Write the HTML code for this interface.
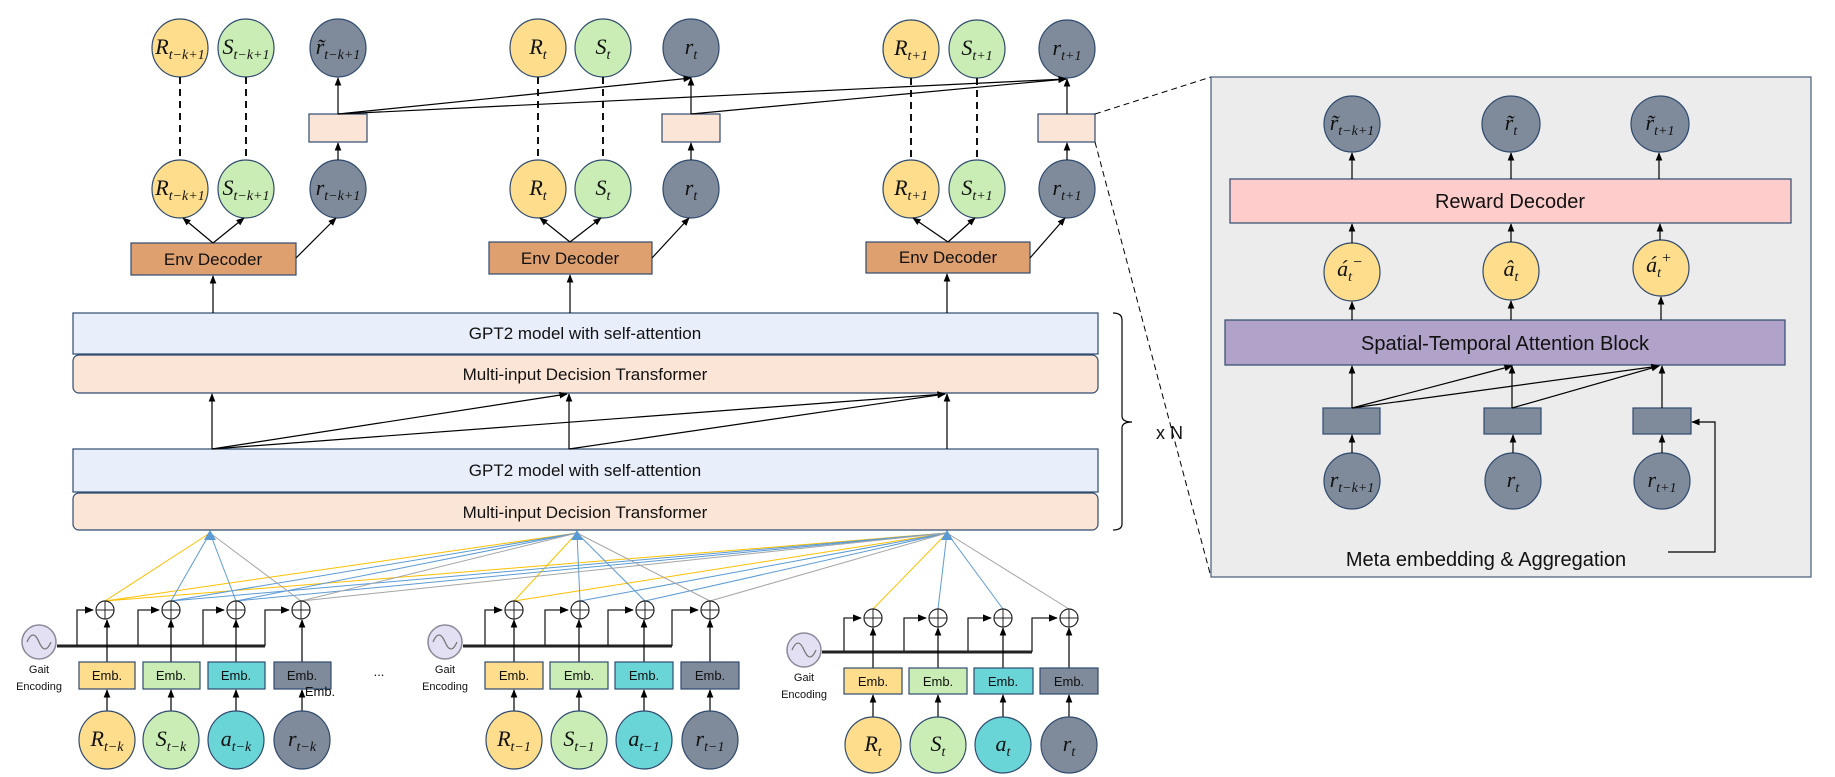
<!DOCTYPE html>
<html><head><meta charset="utf-8"><style>
html,body{margin:0;padding:0;background:#fff;}
svg{display:block;}
text{font-family:"Liberation Sans",sans-serif;}
.m text, text.m{font-family:"Liberation Serif",serif;font-style:italic;}
</style></head><body>
<svg width="1835" height="777" viewBox="0 0 1835 777" xmlns="http://www.w3.org/2000/svg">
<defs>
<marker id="ah" viewBox="0 0 10 10" refX="9" refY="5" markerWidth="7" markerHeight="7" orient="auto-start-reverse"><path d="M0,1 L10,5 L0,9 z" fill="#000"/></marker>
</defs>
<g stroke="#2f4a6e" stroke-width="1.2">
<ellipse cx="180" cy="48" rx="28" ry="29" fill="#fedd8c"/>
<ellipse cx="246" cy="48" rx="28" ry="29" fill="#c9edb5"/>
<ellipse cx="338" cy="48" rx="28" ry="29" fill="#7f8b9b"/>
<ellipse cx="538" cy="48" rx="28" ry="29" fill="#fedd8c"/>
<ellipse cx="603" cy="48" rx="28" ry="29" fill="#c9edb5"/>
<ellipse cx="691" cy="48" rx="28" ry="29" fill="#7f8b9b"/>
<ellipse cx="911" cy="49" rx="28" ry="29" fill="#fedd8c"/>
<ellipse cx="977" cy="49" rx="28" ry="29" fill="#c9edb5"/>
<ellipse cx="1067" cy="49" rx="28" ry="29" fill="#7f8b9b"/>
<ellipse cx="180" cy="189" rx="28" ry="29" fill="#fedd8c"/>
<ellipse cx="246" cy="189" rx="28" ry="29" fill="#c9edb5"/>
<ellipse cx="338" cy="189" rx="28" ry="29" fill="#7f8b9b"/>
<ellipse cx="538" cy="189" rx="28" ry="29" fill="#fedd8c"/>
<ellipse cx="603" cy="189" rx="28" ry="29" fill="#c9edb5"/>
<ellipse cx="691" cy="189" rx="28" ry="29" fill="#7f8b9b"/>
<ellipse cx="911" cy="189" rx="28" ry="29" fill="#fedd8c"/>
<ellipse cx="977" cy="189" rx="28" ry="29" fill="#c9edb5"/>
<ellipse cx="1067" cy="189" rx="28" ry="29" fill="#7f8b9b"/>
<rect x="309" y="114" width="58" height="28" fill="#fbe5d6"/>
<rect x="662" y="114" width="58" height="28" fill="#fbe5d6"/>
<rect x="1038" y="114" width="57" height="28" fill="#fbe5d6"/>
<rect x="131" y="243" width="165" height="32" fill="#dfa070"/>
<rect x="489" y="242" width="163" height="32" fill="#dfa070"/>
<rect x="866" y="242" width="164" height="31" fill="#dfa070"/>
<rect x="73" y="313" width="1025" height="41" fill="#e8eefa"/>
<rect x="73" y="355" width="1025" height="38" rx="6" fill="#fbe5d6"/>
<rect x="73" y="449" width="1025" height="43" fill="#e8eefa"/>
<rect x="73" y="493" width="1025" height="37" rx="6" fill="#fbe5d6"/>
</g>
<g font-size="17" text-anchor="middle" fill="#111">
<text x="585" y="339">GPT2 model with self-attention</text>
<text x="585" y="380">Multi-input Decision Transformer</text>
<text x="585" y="476">GPT2 model with self-attention</text>
<text x="585" y="518">Multi-input Decision Transformer</text>
<text x="213" y="265">Env Decoder</text>
<text x="570" y="264">Env Decoder</text>
<text x="948" y="263">Env Decoder</text>
</g>
<g class="m" font-size="22" text-anchor="middle" fill="#111">
<text x="180" y="54">R<tspan font-size="14" dy="5">t−k+1</tspan></text>
<text x="246" y="54">S<tspan font-size="14" dy="5">t−k+1</tspan></text>
<text x="338" y="54">r̃<tspan font-size="14" dy="5">t−k+1</tspan></text>
<text x="538" y="54">R<tspan font-size="14" dy="5">t</tspan></text>
<text x="603" y="54">S<tspan font-size="14" dy="5">t</tspan></text>
<text x="691" y="54">r<tspan font-size="14" dy="5">t</tspan></text>
<text x="911" y="55">R<tspan font-size="14" dy="5">t+1</tspan></text>
<text x="977" y="55">S<tspan font-size="14" dy="5">t+1</tspan></text>
<text x="1067" y="55">r<tspan font-size="14" dy="5">t+1</tspan></text>
<text x="180" y="195">R<tspan font-size="14" dy="5">t−k+1</tspan></text>
<text x="246" y="195">S<tspan font-size="14" dy="5">t−k+1</tspan></text>
<text x="338" y="195">r<tspan font-size="14" dy="5">t−k+1</tspan></text>
<text x="538" y="195">R<tspan font-size="14" dy="5">t</tspan></text>
<text x="603" y="195">S<tspan font-size="14" dy="5">t</tspan></text>
<text x="691" y="195">r<tspan font-size="14" dy="5">t</tspan></text>
<text x="911" y="195">R<tspan font-size="14" dy="5">t+1</tspan></text>
<text x="977" y="195">S<tspan font-size="14" dy="5">t+1</tspan></text>
<text x="1067" y="195">r<tspan font-size="14" dy="5">t+1</tspan></text>
</g>
<g stroke="#111" stroke-width="2" stroke-dasharray="7,5">
<line x1="180" y1="77" x2="180" y2="160"/><line x1="246" y1="77" x2="246" y2="160"/>
<line x1="538" y1="77" x2="538" y2="160"/><line x1="603" y1="77" x2="603" y2="160"/>
<line x1="911" y1="78" x2="911" y2="160"/><line x1="977" y1="78" x2="977" y2="160"/>
</g>
<g stroke="#000" stroke-width="1.2" fill="none" marker-end="url(#ah)">
<line x1="338" y1="160" x2="338" y2="143"/><line x1="691" y1="160" x2="691" y2="143"/><line x1="1067" y1="160" x2="1067" y2="143"/>
<line x1="338" y1="114" x2="338" y2="78"/><line x1="338" y1="114" x2="691" y2="78"/><line x1="338" y1="114" x2="1066" y2="79"/>
<line x1="691" y1="114" x2="691" y2="78"/><line x1="691" y1="114" x2="1066" y2="79"/><line x1="1067" y1="114" x2="1067" y2="79"/>
<line x1="213" y1="243" x2="183" y2="218"/><line x1="213" y1="243" x2="244" y2="218"/><line x1="296" y1="258" x2="336" y2="218"/>
<line x1="570" y1="242" x2="540" y2="218"/><line x1="570" y1="242" x2="601" y2="218"/><line x1="652" y1="258" x2="689" y2="218"/>
<line x1="948" y1="242" x2="913" y2="218"/><line x1="948" y1="242" x2="975" y2="218"/><line x1="1030" y1="258" x2="1065" y2="218"/>
<line x1="213" y1="313" x2="213" y2="276"/><line x1="570" y1="313" x2="570" y2="275"/><line x1="947" y1="313" x2="947" y2="274"/>
<line x1="212" y1="449" x2="212" y2="394"/><line x1="569" y1="449" x2="569" y2="394"/><line x1="947" y1="449" x2="947" y2="394"/>
<line x1="212" y1="449" x2="567" y2="394"/><line x1="212" y1="449" x2="945" y2="394"/><line x1="569" y1="449" x2="945" y2="394"/>
</g>
<path d="M1113,313 Q1122,313 1122,320 L1122,416 Q1122,422 1132,422 Q1122,422 1122,428 L1122,524 Q1122,530 1113,530" stroke="#000" stroke-width="1.2" fill="none"/>
<text x="1156" y="439" font-size="18" fill="#111">x N</text>
<g stroke="#000" stroke-width="1" stroke-dasharray="6,4"><line x1="1095" y1="114" x2="1211" y2="77"/><line x1="1095" y1="142" x2="1211" y2="577"/></g>

<g>
<g stroke-width="1" fill="none">
<g stroke="#ffc000"><line x1="105" y1="601" x2="210" y2="533"/><line x1="105" y1="601" x2="577" y2="533"/><line x1="105" y1="601" x2="947" y2="533"/>
<line x1="514" y1="601" x2="577" y2="533"/><line x1="514" y1="601" x2="947" y2="533"/><line x1="873" y1="609" x2="947" y2="533"/></g>
<g stroke="#5b9bd5"><line x1="171" y1="601" x2="210" y2="533"/><line x1="171" y1="601" x2="577" y2="533"/><line x1="171" y1="601" x2="947" y2="533"/>
<line x1="236" y1="601" x2="210" y2="533"/><line x1="236" y1="601" x2="577" y2="533"/><line x1="236" y1="601" x2="947" y2="533"/>
<line x1="580" y1="601" x2="577" y2="533"/><line x1="580" y1="601" x2="947" y2="533"/><line x1="645" y1="601" x2="577" y2="533"/><line x1="645" y1="601" x2="947" y2="533"/>
<line x1="938" y1="609" x2="947" y2="533"/><line x1="1003" y1="609" x2="947" y2="533"/></g>
<g stroke="#a5a5a5"><line x1="301" y1="601" x2="210" y2="533"/><line x1="301" y1="601" x2="577" y2="533"/><line x1="301" y1="601" x2="947" y2="533"/>
<line x1="710" y1="601" x2="577" y2="533"/><line x1="710" y1="601" x2="947" y2="533"/><line x1="1069" y1="609" x2="947" y2="533"/></g>
</g>
<g fill="#5b9bd5"><path d="M204,540 L210,530 L216,540z"/><path d="M571,540 L577,530 L583,540z"/><path d="M941,540 L947,530 L953,540z"/></g>
<g stroke="#222" fill="none" stroke-width="1.3">
<path d="M57,646 L265,646" stroke-width="3"/>
<path d="M77,646 V610 H93" marker-end="url(#ah)"/><path d="M138,646 V610 H159" marker-end="url(#ah)"/><path d="M203,646 V610 H224" marker-end="url(#ah)"/><path d="M265,646 V610 H289" marker-end="url(#ah)"/>
<path d="M463,646 L672,646" stroke-width="3"/>
<path d="M485,646 V610 H502" marker-end="url(#ah)"/><path d="M545,646 V610 H568" marker-end="url(#ah)"/><path d="M608,646 V610 H633" marker-end="url(#ah)"/><path d="M672,646 V610 H698" marker-end="url(#ah)"/>
<path d="M822,652 L1032,652" stroke-width="3"/>
<path d="M844,652 V618 H861" marker-end="url(#ah)"/><path d="M904,652 V618 H926" marker-end="url(#ah)"/><path d="M968,652 V618 H991" marker-end="url(#ah)"/><path d="M1032,652 V618 H1057" marker-end="url(#ah)"/>
</g>
<g stroke="#222" fill="#fff" stroke-width="1.2">
<circle cx="105" cy="610" r="9"/><circle cx="171" cy="610" r="9"/><circle cx="236" cy="610" r="9"/><circle cx="301" cy="610" r="9"/>
<circle cx="514" cy="610" r="9"/><circle cx="580" cy="610" r="9"/><circle cx="645" cy="610" r="9"/><circle cx="710" cy="610" r="9"/>
<circle cx="873" cy="618" r="9"/><circle cx="938" cy="618" r="9"/><circle cx="1003" cy="618" r="9"/><circle cx="1069" cy="618" r="9"/>
</g>
<g stroke="#222" stroke-width="1">
<path d="M96,610h18M105,601v18M162,610h18M171,601v18M227,610h18M236,601v18M292,610h18M301,601v18"/>
<path d="M505,610h18M514,601v18M571,610h18M580,601v18M636,610h18M645,601v18M701,610h18M710,601v18"/>
<path d="M864,618h18M873,609v18M929,618h18M938,609v18M994,618h18M1003,609v18M1060,618h18M1069,609v18"/>
</g>
<g stroke="#000" stroke-width="1.2" marker-end="url(#ah)">
<line x1="107" y1="662" x2="107" y2="620"/><line x1="171" y1="662" x2="171" y2="620"/><line x1="236" y1="662" x2="236" y2="620"/><line x1="302" y1="662" x2="302" y2="620"/>
<line x1="514" y1="662" x2="514" y2="620"/><line x1="579" y1="662" x2="579" y2="620"/><line x1="644" y1="662" x2="644" y2="620"/><line x1="710" y1="662" x2="710" y2="620"/>
<line x1="873" y1="668" x2="873" y2="628"/><line x1="938" y1="668" x2="938" y2="628"/><line x1="1003" y1="668" x2="1003" y2="628"/><line x1="1069" y1="668" x2="1069" y2="628"/>
<line x1="107" y1="711" x2="107" y2="690"/><line x1="171" y1="711" x2="171" y2="690"/><line x1="236" y1="711" x2="236" y2="690"/><line x1="302" y1="711" x2="302" y2="690"/>
<line x1="514" y1="711" x2="514" y2="690"/><line x1="579" y1="711" x2="579" y2="690"/><line x1="644" y1="711" x2="644" y2="690"/><line x1="710" y1="711" x2="710" y2="690"/>
<line x1="873" y1="717" x2="873" y2="695"/><line x1="938" y1="717" x2="938" y2="695"/><line x1="1003" y1="717" x2="1003" y2="695"/><line x1="1069" y1="717" x2="1069" y2="695"/>
</g>
<g stroke="#2f4a6e" stroke-width="1.2">
<rect x="79" y="662" width="56" height="27" fill="#fedd8c"/><rect x="143" y="662" width="57" height="27" fill="#c9edb5"/><rect x="208" y="662" width="57" height="27" fill="#6ad5d6"/><rect x="274" y="662" width="57" height="27" fill="#7f8b9b"/>
<rect x="485" y="662" width="58" height="27" fill="#fedd8c"/><rect x="550" y="662" width="58" height="27" fill="#c9edb5"/><rect x="615" y="662" width="58" height="27" fill="#6ad5d6"/><rect x="681" y="662" width="58" height="27" fill="#7f8b9b"/>
<rect x="844" y="668" width="58" height="26" fill="#fedd8c"/><rect x="909" y="668" width="58" height="26" fill="#c9edb5"/><rect x="974" y="668" width="59" height="26" fill="#6ad5d6"/><rect x="1040" y="668" width="58" height="26" fill="#7f8b9b"/>
<ellipse cx="107" cy="740" rx="28" ry="29" fill="#fedd8c"/><ellipse cx="171" cy="740" rx="28" ry="29" fill="#c9edb5"/><ellipse cx="236" cy="740" rx="28" ry="29" fill="#6ad5d6"/><ellipse cx="302" cy="740" rx="28" ry="29" fill="#7f8b9b"/>
<ellipse cx="514" cy="740" rx="28" ry="29" fill="#fedd8c"/><ellipse cx="579" cy="740" rx="28" ry="29" fill="#c9edb5"/><ellipse cx="644" cy="740" rx="28" ry="29" fill="#6ad5d6"/><ellipse cx="710" cy="740" rx="28" ry="29" fill="#7f8b9b"/>
<ellipse cx="873" cy="745" rx="28" ry="28" fill="#fedd8c"/><ellipse cx="938" cy="745" rx="28" ry="28" fill="#c9edb5"/><ellipse cx="1003" cy="745" rx="28" ry="28" fill="#6ad5d6"/><ellipse cx="1069" cy="745" rx="28" ry="28" fill="#7f8b9b"/>
</g>
<g stroke="#8a8a9a" stroke-width="1.5" fill="#e4e0f4">
<circle cx="39" cy="642" r="17"/><circle cx="445" cy="642" r="17"/><circle cx="804" cy="650" r="17"/>
</g>
<g stroke="#777" stroke-width="1.3" fill="none">
<path d="M27,642 q6,-14 12,0 t12,0"/><path d="M433,642 q6,-14 12,0 t12,0"/><path d="M792,650 q6,-14 12,0 t12,0"/>
</g>
<g font-size="11" text-anchor="middle" fill="#111">
<text x="39" y="673">Gait</text><text x="39" y="690">Encoding</text>
<text x="445" y="673">Gait</text><text x="445" y="690">Encoding</text>
<text x="804" y="681">Gait</text><text x="804" y="698">Encoding</text>
</g>
<g font-size="13" text-anchor="middle" fill="#111">
<text x="107" y="680">Emb.</text><text x="171" y="680">Emb.</text><text x="236" y="680">Emb.</text><text x="302" y="680">Emb.</text>
<text x="320" y="696">Emb.</text>
<text x="514" y="680">Emb.</text><text x="579" y="680">Emb.</text><text x="644" y="680">Emb.</text><text x="710" y="680">Emb.</text>
<text x="873" y="686">Emb.</text><text x="938" y="686">Emb.</text><text x="1003" y="686">Emb.</text><text x="1069" y="686">Emb.</text>
<text x="379" y="676">...</text>
</g>
<g class="m" font-size="22" text-anchor="middle" fill="#111">
<text x="107" y="746">R<tspan font-size="14" dy="5">t−k</tspan></text>
<text x="171" y="746">S<tspan font-size="14" dy="5">t−k</tspan></text>
<text x="236" y="746">a<tspan font-size="14" dy="5">t−k</tspan></text>
<text x="302" y="746">r<tspan font-size="14" dy="5">t−k</tspan></text>
<text x="514" y="746">R<tspan font-size="14" dy="5">t−1</tspan></text>
<text x="579" y="746">S<tspan font-size="14" dy="5">t−1</tspan></text>
<text x="644" y="746">a<tspan font-size="14" dy="5">t−1</tspan></text>
<text x="710" y="746">r<tspan font-size="14" dy="5">t−1</tspan></text>
<text x="873" y="751">R<tspan font-size="14" dy="5">t</tspan></text>
<text x="938" y="751">S<tspan font-size="14" dy="5">t</tspan></text>
<text x="1003" y="751">a<tspan font-size="14" dy="5">t</tspan></text>
<text x="1069" y="751">r<tspan font-size="14" dy="5">t</tspan></text>
</g>
</g>

<rect x="1211" y="77" width="600" height="500" fill="#ececec" stroke="#4a5a7a" stroke-width="1.2"/>
<g stroke="#2f4a6e" stroke-width="1.2">
<ellipse cx="1352" cy="124" rx="28" ry="28" fill="#7f8b9b"/><ellipse cx="1511" cy="124" rx="29" ry="28" fill="#7f8b9b"/><ellipse cx="1660" cy="124" rx="29" ry="28" fill="#7f8b9b"/>
<rect x="1230" y="179" width="561" height="44" fill="#ffcccc"/>
<ellipse cx="1352" cy="272" rx="28" ry="29" fill="#fedd8c"/><ellipse cx="1511" cy="271" rx="28" ry="29" fill="#fedd8c"/><ellipse cx="1661" cy="268" rx="28" ry="28" fill="#fedd8c"/>
<rect x="1225" y="320" width="560" height="45" fill="#b0a2c8"/>
<rect x="1323" y="408" width="57" height="26" fill="#7f8b9b"/><rect x="1484" y="408" width="57" height="26" fill="#7f8b9b"/><rect x="1633" y="408" width="58" height="26" fill="#7f8b9b"/>
<ellipse cx="1352" cy="481" rx="28" ry="28" fill="#7f8b9b"/><ellipse cx="1513" cy="481" rx="28" ry="28" fill="#7f8b9b"/><ellipse cx="1662" cy="481" rx="28" ry="28" fill="#7f8b9b"/>
</g>
<g stroke="#000" stroke-width="1.2" fill="none" marker-end="url(#ah)">
<line x1="1352" y1="179" x2="1352" y2="153"/><line x1="1511" y1="179" x2="1511" y2="153"/><line x1="1659" y1="179" x2="1659" y2="153"/>
<line x1="1352" y1="243" x2="1352" y2="224"/><line x1="1511" y1="242" x2="1511" y2="224"/><line x1="1660" y1="240" x2="1660" y2="224"/>
<line x1="1352" y1="320" x2="1352" y2="302"/><line x1="1511" y1="320" x2="1511" y2="301"/><line x1="1661" y1="320" x2="1661" y2="297"/>
<line x1="1352" y1="408" x2="1352" y2="366"/><line x1="1352" y1="408" x2="1512" y2="366"/><line x1="1352" y1="408" x2="1659" y2="366"/>
<line x1="1512" y1="408" x2="1512" y2="366"/><line x1="1512" y1="408" x2="1659" y2="366"/><line x1="1662" y1="408" x2="1662" y2="366"/>
<line x1="1352" y1="453" x2="1352" y2="435"/><line x1="1513" y1="453" x2="1513" y2="435"/><line x1="1662" y1="453" x2="1662" y2="435"/>
<path d="M1668,552 H1715 V422 H1692"/>
</g>
<g font-size="20" text-anchor="middle" fill="#111">
<text x="1510" y="208">Reward Decoder</text>
<text x="1505" y="350">Spatial-Temporal Attention Block</text>
<text x="1486" y="566">Meta embedding &amp; Aggregation</text>
</g>
<g class="m" font-size="22" text-anchor="middle" fill="#111">
<text x="1352" y="130">r̃<tspan font-size="14" dy="5">t−k+1</tspan></text>
<text x="1511" y="130">r̃<tspan font-size="14" dy="5">t</tspan></text>
<text x="1660" y="130">r̃<tspan font-size="14" dy="5">t+1</tspan></text>
<text x="1350" y="276">á<tspan font-size="14" dy="5">t</tspan><tspan font-size="16" dy="-14">−</tspan></text>
<text x="1511" y="276">â<tspan font-size="14" dy="5">t</tspan></text>
<text x="1659" y="272">á<tspan font-size="14" dy="5">t</tspan><tspan font-size="16" dy="-14">+</tspan></text>
<text x="1352" y="487">r<tspan font-size="14" dy="5">t−k+1</tspan></text>
<text x="1513" y="487">r<tspan font-size="14" dy="5">t</tspan></text>
<text x="1662" y="487">r<tspan font-size="14" dy="5">t+1</tspan></text>
</g>
</svg>
</body></html>
